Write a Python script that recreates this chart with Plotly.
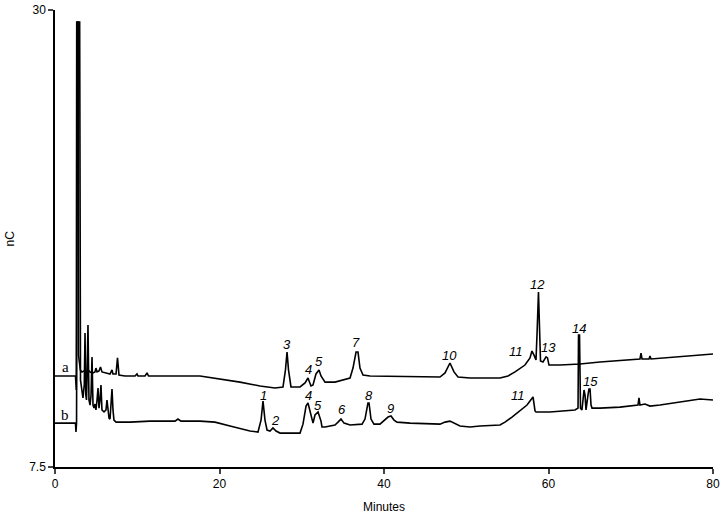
import plotly.graph_objects as go

# trace a (upper chromatogram), minutes / nC
a_time = [0, 2.49, 2.59, 2.64, 2.82, 2.86, 3.08, 3.28, 3.53, 3.77, 4.01, 4.26, 4.62, 4.86, 4.98, 5.11,
          5.35, 5.53, 5.71, 6.08, 6.69, 6.93, 7.05, 7.42, 7.60, 7.78, 8.51, 9.73, 9.97, 10.09,
          10.94, 11.19, 11.37, 17.63, 18.48, 20.06, 22.49, 24.92, 26.75, 27.72, 28.02, 28.21,
          28.39, 28.69, 29.79, 30.40, 30.76, 31.12, 31.37, 31.73, 32.10, 32.34, 32.83, 34.04,
          35.26, 35.87, 36.23, 36.60, 36.84, 37.08, 37.45, 38.30, 46.81, 47.42, 48.02, 48.51,
          49.00, 50.46, 54.10, 55.08, 55.93, 57.14, 57.75, 57.99, 58.24, 58.48, 58.62, 58.70,
          58.78, 58.92, 59.03, 59.33, 59.70, 59.88, 60.06, 61.40, 63.83, 66.26, 71.12, 71.25,
          71.37, 72.22, 72.34, 72.46, 74.16, 75.99, 78.42, 80.00]
a_nc = [11.98, 11.98, 11.29, 29.41, 29.41, 13.00, 12.28, 12.18, 12.23, 12.13, 12.28, 12.18, 12.13, 12.18,
        12.37, 12.18, 12.23, 12.42, 12.18, 12.13, 12.08, 12.28, 12.08, 12.08, 12.87, 12.03, 11.98,
        11.98, 12.08, 11.98, 11.98, 12.13, 11.98, 11.98, 11.93, 11.83, 11.68, 11.49, 11.39, 11.44,
        12.28, 13.16, 12.28, 11.44, 11.44, 11.64, 11.88, 11.49, 11.54, 12.08, 12.28, 11.98, 11.68,
        11.68, 11.83, 11.88, 12.37, 13.16, 13.16, 12.37, 12.03, 11.98, 11.93, 12.13, 12.62, 12.18,
        11.93, 11.88, 11.88, 11.98, 12.18, 12.52, 12.87, 13.21, 13.01, 12.77, 14.20, 16.12, 16.12,
        14.20, 12.72, 12.67, 12.92, 12.87, 12.52, 12.52, 12.57, 12.67, 12.82, 13.11, 12.82, 12.82,
        12.96, 12.82, 12.87, 12.92, 13.01, 13.06]

# trace b (lower chromatogram)
b_time = [0, 2.49, 2.55, 2.62, 2.74, 3.00, 3.10, 3.28, 3.40, 3.56, 3.65, 3.75, 3.83, 3.89, 4.01,
          4.13, 4.26, 4.38, 4.50, 4.62, 4.74, 4.86, 4.98, 5.11, 5.23, 5.35, 5.47, 5.59, 5.71, 5.96,
          6.08, 6.20, 6.32, 6.44, 6.57, 6.69, 6.87, 6.93, 7.05, 7.17, 7.42, 9.12, 11.55, 14.59,
          14.95, 15.32, 17.63, 19.45, 21.28, 23.71, 24.68, 25.05, 25.29, 25.53, 25.78, 26.14,
          26.50, 26.87, 27.36, 29.79, 30.15, 30.52, 30.76, 31.00, 31.25, 31.37, 31.61, 31.98,
          32.34, 32.46, 32.83, 34.04, 34.41, 34.77, 35.14, 35.87, 37.33, 37.69, 38.05, 38.18,
          38.42, 38.78, 39.51, 40.12, 40.49, 40.85, 41.22, 41.58, 43.16, 46.81, 47.42, 48.02,
          48.51, 49.24, 50.46, 51.67, 54.10, 54.71, 55.56, 56.29, 57.14, 57.39, 57.75, 58.12,
          58.36, 58.48, 60.18, 63.22, 63.59, 63.65, 63.77, 63.89, 64.07, 64.19, 64.32, 64.44,
          64.56, 64.80, 64.92, 65.05, 65.17, 65.29, 66.26, 68.69, 70.88, 71.00, 71.12, 71.73,
          72.34, 73.56, 75.99, 77.20, 78.42, 80.00]
b_nc = [9.66, 9.66, 9.22, 9.66, 29.41, 29.41, 11.78, 11.19, 10.90, 11.54, 14.10, 11.04, 10.80,
        11.78, 14.49, 10.80, 10.55, 11.04, 12.92, 10.55, 10.40, 10.60, 10.31, 10.80, 11.39, 10.40,
        10.80, 11.54, 10.31, 10.21, 10.26, 10.31, 10.80, 10.16, 9.91, 9.86, 10.80, 11.34, 10.31,
        9.81, 9.71, 9.71, 9.76, 9.76, 9.86, 9.76, 9.76, 9.71, 9.52, 9.27, 9.22, 9.81, 10.75, 9.81,
        9.32, 9.27, 9.42, 9.27, 9.17, 9.17, 9.61, 10.50, 10.65, 10.21, 9.71, 9.66, 10.06, 10.21,
        9.76, 9.47, 9.47, 9.57, 9.71, 9.86, 9.66, 9.57, 9.61, 9.86, 10.65, 10.65, 9.86, 9.61, 9.61,
        9.81, 9.96, 10.01, 9.81, 9.71, 9.66, 9.61, 9.71, 9.76, 9.66, 9.52, 9.47, 9.52, 9.57, 9.71,
        9.96, 10.21, 10.50, 10.55, 10.75, 10.95, 10.26, 10.21, 10.21, 10.31, 10.40, 14.00, 14.00,
        10.40, 10.31, 11.04, 11.29, 11.04, 10.31, 11.04, 11.34, 11.34, 10.55, 10.40, 10.40, 10.45,
        10.55, 10.90, 10.55, 10.60, 10.50, 10.55, 10.70, 10.80, 10.85, 10.80]

x_ticks = [0, 20, 40, 60, 80]
y_ticks = [7.5, 30]
y_ticktext = ["7.5", "30"]

# peak labels: (text, minutes, nC)
peak_labels = [
    ("3", 28.21, 13.51), ("4", 30.76, 12.28), ("5", 32.10, 12.67), ("7", 36.60, 13.65),
    ("10", 48.02, 13.01), ("11", 56.05, 13.21), ("12", 58.72, 16.51), ("13", 59.94, 13.36),
    ("14", 63.71, 14.34), ("15", 65.05, 11.73),
    ("1", 25.29, 11.04), ("2", 26.75, 9.81), ("4", 30.76, 11.04), ("5", 31.98, 10.55),
    ("6", 34.89, 10.31), ("8", 38.18, 11.04), ("9", 40.85, 10.40), ("11", 56.29, 11.00),
]
trace_labels = [("a", 1.22, 12.42), ("b", 1.22, 10.06)]

fig = go.Figure()
for t, v in [(a_time, a_nc), (b_time, b_nc)]:
    fig.add_trace(go.Scatter(x=t, y=v, mode="lines",
                             line=dict(color="black", width=1.6), hoverinfo="skip"))

for txt, x, y in peak_labels:
    fig.add_annotation(x=x, y=y, text=f"<i>{txt}</i>", showarrow=False,
                       font=dict(family="Liberation Sans", size=13, color="black"))
for txt, x, y in trace_labels:
    fig.add_annotation(x=x, y=y, text=txt, showarrow=False,
                       font=dict(family="Liberation Serif", size=15, color="black"))

# axis titles placed as paper annotations
fig.add_annotation(xref="paper", yref="paper", x=-0.0684, y=0.5, text="nC", textangle=-90,
                   xanchor="center", yanchor="middle", showarrow=False, font=dict(size=12))
fig.add_annotation(xref="paper", yref="paper", x=0.5, y=-0.0875, text="Minutes",
                   xanchor="center", yanchor="middle", showarrow=False, font=dict(size=12))

fig.update_layout(
    width=724, height=516, autosize=False,
    margin=dict(l=55, r=11, t=10, b=49),
    paper_bgcolor="white", plot_bgcolor="white",
    showlegend=False,
    font=dict(family="Liberation Sans", size=12, color="black"),
)
fig.update_xaxes(range=[0, 80], tickvals=x_ticks, ticks="outside", ticklen=5, tickwidth=1.5,
                 showline=True, linecolor="black", linewidth=1.5, showgrid=False, zeroline=False,
                 automargin=False, ticklabeloverflow="allow")
fig.update_yaxes(range=[7.5, 30], tickvals=y_ticks, ticktext=y_ticktext, ticks="outside",
                 ticklen=5, tickwidth=1.5, showline=True, linecolor="black", linewidth=1.5,
                 showgrid=False, zeroline=False, automargin=False, ticklabeloverflow="allow")

# drop the default 8px page margin so the figure sits at the window corner
fig.write_html("out.html", config={"displayModeBar": False},
               post_script="document.body.style.margin = '0';")
